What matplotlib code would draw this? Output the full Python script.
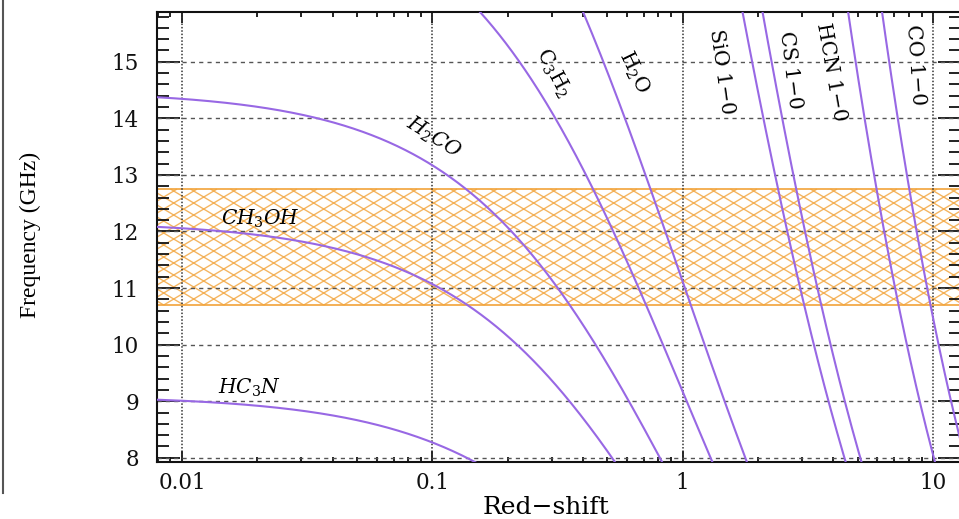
#!/usr/bin/env python3
# -*- coding: utf-8 -*-
"""
Redshifted frequency of common molecular lines vs. redshift,
with the 10.7-12.75 GHz receiver band shown as a cross-hatched strip.
Writes out.png.
"""
import numpy as np

import matplotlib
matplotlib.use("Agg")
import matplotlib.pyplot as plt
from matplotlib.collections import LineCollection
from matplotlib.patches import Rectangle
from matplotlib.transforms import IdentityTransform
from matplotlib.ticker import MultipleLocator, LogLocator, NullFormatter

plt.rcParams["font.family"] = ["DejaVu Serif"]
plt.rcParams["mathtext.fontset"] = "dejavuserif"

# rest frequencies (GHz) of the plotted transitions
species = ["H2CO", "CH3OH", "HC3N", "C3H2", "H2O",
           "SiO 1-0", "CS 1-0", "HCN 1-0", "CO 1-0"]
rest_ghz = [14.488, 12.178, 9.098, 18.343, 22.235,
            43.424, 48.991, 88.632, 115.271]

# receiver band (GHz)
band_lo, band_hi = 10.7, 12.75

xticks = [0.01, 0.1, 1, 10]
xticklabels = ["0.01", "0.1", "1", "10"]
yticks = [8, 9, 10, 11, 12, 13, 14, 15]

# label text, (z, freq) position, rotation
labels = {
    "H2CO":    (r"$H_2CO$",            0.101, 13.65, -32),
    "CH3OH":   (r"$CH_3OH$",           0.0205, 12.22, 0),
    "HC3N":    (r"$HC_3N$",            0.0186, 9.24, 0),
    "C3H2":    (r"$\mathrm{C_3H_2}$",  0.305, 14.80, -62),
    "H2O":     (r"$\mathrm{H_2O}$",    0.637, 14.82, -64),
    "SiO 1-0": ("SiO 1\u22120",        1.43, 14.82, -82),
    "CS 1-0":  ("CS 1\u22120",         2.70, 14.85, -83),
    "HCN 1-0": ("HCN 1\u22120",        3.90, 14.82, -80),
    "CO 1-0":  ("CO 1\u22120",         8.53, 14.94, -86),
}

LINE = "#9868e4"
HATCH = "#f2a33a"
XLIM = (0.00795, 12.94)
YLIM = (7.925, 15.88)

W, H = 959, 519
fig = plt.figure(figsize=(W / 100, H / 100), dpi=100)
ax = fig.add_axes([157 / W, 1 - 462 / H, (961 - 157) / W, (462 - 12) / H])
ax.set_xscale("log")
ax.set_xlim(*XLIM)
ax.set_ylim(*YLIM)

# molecular lines: observed frequency = rest / (1 + z)
z = np.logspace(-2.2, 1.2, 800)
for name, f0 in zip(species, rest_ghz):
    ax.plot(z, f0 / (1 + z), color=LINE, lw=1.5, zorder=3)
    txt, lx, ly, rot = labels[name]
    ax.text(lx, ly, txt, rotation=rot, ha="center", va="center",
            fontsize=14.5, rotation_mode="anchor", zorder=4)

# band: outline plus hand-built diamond hatch (pixel space)
rect = Rectangle((XLIM[0], band_lo), XLIM[1] - XLIM[0], band_hi - band_lo,
                 transform=ax.transData, fill=False, edgecolor=HATCH,
                 lw=1.2, zorder=1)
ax.add_patch(rect)
x0, y0 = ax.transData.transform((XLIM[0], band_lo))
x1, y1 = ax.transData.transform((XLIM[1], band_hi))
period, slope = 20.0, 0.6
run = (y1 - y0) / slope
segs = []
for c in np.arange(x0 - run, x1 + run, period):
    segs.append([(c, y0), (c + run, y1)])
    segs.append([(c, y0), (c - run, y1)])
hatch = LineCollection(segs, colors=HATCH, linewidths=1.0, alpha=0.8,
                       transform=IdentityTransform(), zorder=1)
hatch.set_clip_path(rect)
ax.add_collection(hatch)

# grid: dotted verticals, dashed horizontals
for xv in xticks:
    ax.axvline(xv, color="#333333", lw=1.1, ls=(0, (1, 1.2)), zorder=2)
for yv in yticks:
    ax.axhline(yv, color="#555555", lw=1.0, ls=(0, (3, 3)), zorder=2)

ax.set_xticks(xticks)
ax.set_xticklabels(xticklabels)
ax.xaxis.set_minor_locator(LogLocator(base=10, subs=np.arange(2, 10)))
ax.xaxis.set_minor_formatter(NullFormatter())
ax.set_yticks(yticks)
ax.yaxis.set_minor_locator(MultipleLocator(0.2))

ax.tick_params(axis="both", which="both", direction="in",
               top=True, right=True, width=1.3, colors="#111111",
               labelsize=15.5)
ax.tick_params(axis="y", which="major", length=16.5, pad=13)
ax.tick_params(axis="y", which="minor", length=8.5)
ax.tick_params(axis="x", which="major", length=8, pad=7)
ax.tick_params(axis="x", which="minor", length=3.6)
for sp in ax.spines.values():
    sp.set_linewidth(1.5)
    sp.set_color("#111111")

fig.text(546 / W, 1 - 507 / H, "Red\u2212shift", ha="center", va="center",
         fontsize=18)
fig.text(30 / W, 1 - 235 / H, "Frequency (GHz)", rotation=90,
         ha="center", va="center", fontsize=17, family="Liberation Serif")

# thin frame line on the left edge
fig.add_artist(plt.Line2D([3 / W, 3 / W], [1 - 493 / H, 1.0],
                          transform=fig.transFigure, color="#555555", lw=1.5))

fig.savefig("out.png", dpi=100)
